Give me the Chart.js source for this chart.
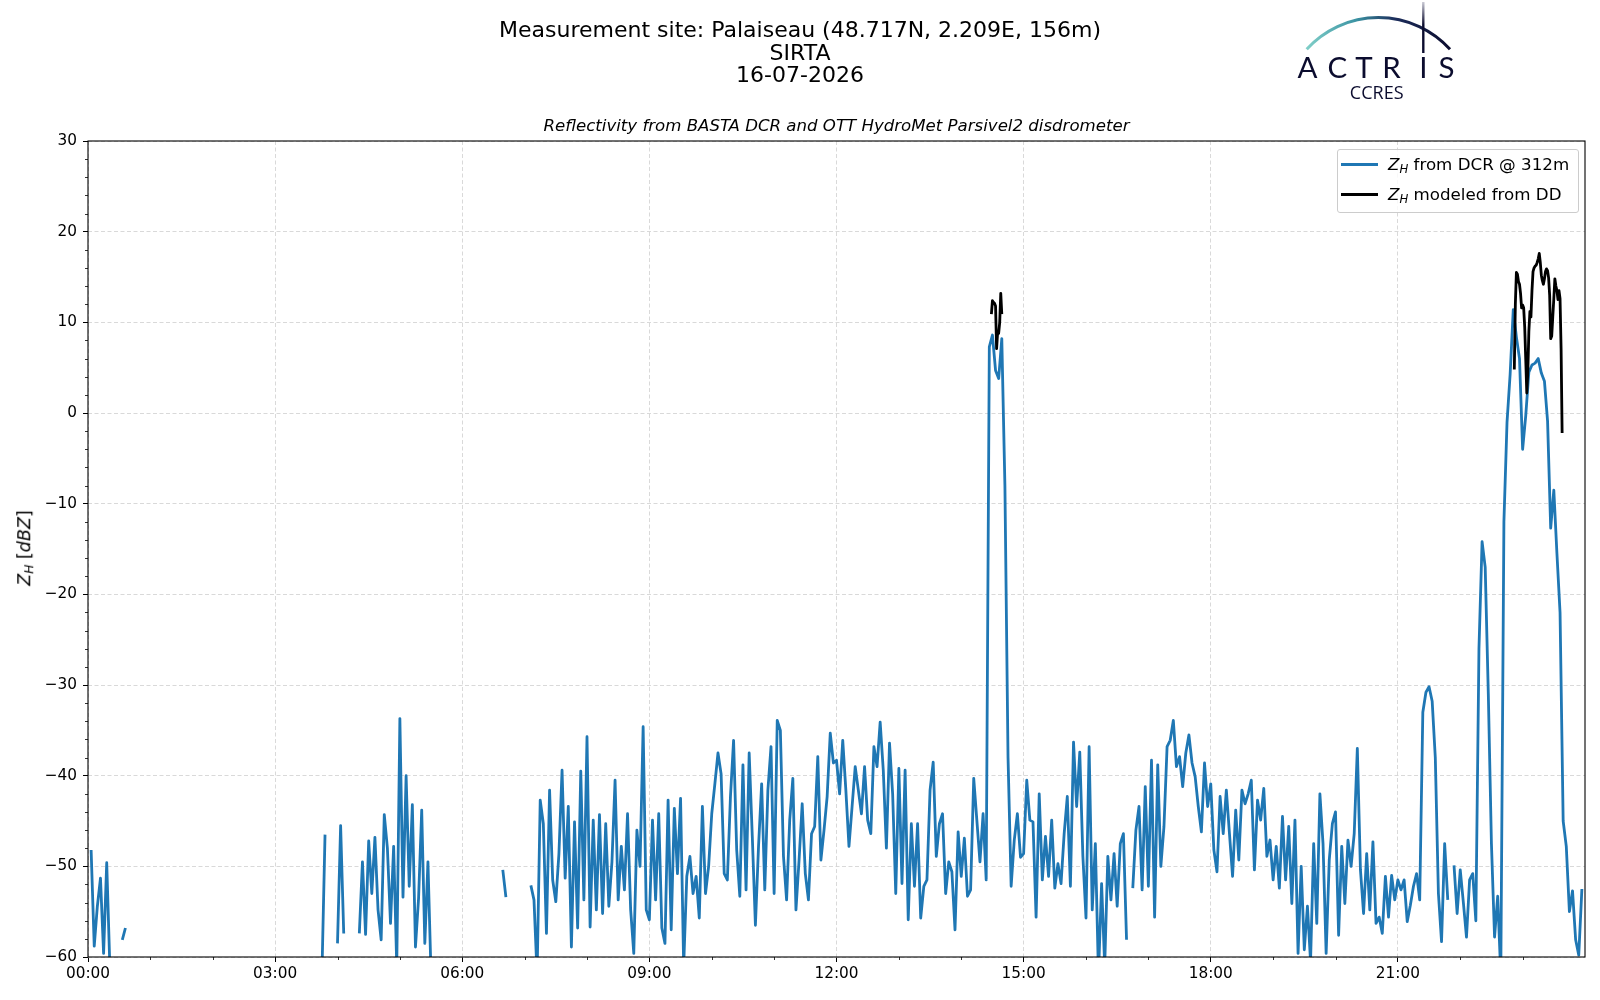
<!DOCTYPE html>
<html>
<head>
<meta charset="utf-8">
<title>Reflectivity Palaiseau</title>
<script src="https://cdn.jsdelivr.net/npm/chart.js@4.4.1/dist/chart.umd.min.js"></script>
<style>
  html, body { margin: 0; padding: 0; background: #fff; }
  #wrap { position: relative; width: 1600px; height: 1000px; font-family: "DejaVu Sans", sans-serif; color: #000; overflow: hidden; }
  #zh { position: absolute; left: 0; top: 0; }
  .title { position: absolute; left: 0; width: 1600px; text-align: center; font-size: 22px; line-height: 22px; white-space: nowrap; }
  .subtitle { position: absolute; left: 88px; width: 1497px; top: 118px; text-align: center; font-size: 16.6px; line-height: 16.6px; font-style: italic; white-space: nowrap; }
  #ylabel { position: absolute; left: 25px; top: 548px; transform: translate(-50%, -50%) rotate(-90deg); font-size: 17.5px; line-height: 17.5px; white-space: nowrap; }
  sub { font-size: 70%; vertical-align: -0.22em; line-height: 0; }
  #legend { position: absolute; left: 1337px; top: 149px; width: 240px; height: 62px; border: 1px solid #cccccc; border-radius: 3px; background: rgba(255,255,255,0.8); font-size: 16.7px; }
  .swatch { position: absolute; left: 3px; width: 37px; height: 2.8px; }
  .label { position: absolute; left: 50px; line-height: 16.7px; white-space: nowrap; }
  #logo { position: absolute; left: 1290px; top: 0; }
</style>
</head>
<body>
<div id="wrap">
  <canvas id="zh" width="1600" height="1000"></canvas>

  <div class="title" style="top:19px">Measurement site: Palaiseau (48.717N, 2.209E, 156m)</div>
  <div class="title" style="top:42px">SIRTA</div>
  <div class="title" style="top:64px">16-07-2026</div>
  <div class="subtitle">Reflectivity from BASTA DCR and OTT HydroMet Parsivel2 disdrometer</div>

  <div id="ylabel"><i>Z</i><sub><i>H</i></sub> [<i>dBZ</i>]</div>

  <div id="legend">
    <div class="swatch" style="top:13px; background:#1f77b4"></div>
    <div class="label" style="top:6px"><i>Z</i><sub><i>H</i></sub> from DCR @ 312m</div>
    <div class="swatch" style="top:43px; background:#000"></div>
    <div class="label" style="top:36px"><i>Z</i><sub><i>H</i></sub> modeled from DD</div>
  </div>

  <svg id="logo" width="180" height="110" viewBox="0 0 180 110">
    <defs>
      <linearGradient id="arcGrad" gradientUnits="userSpaceOnUse" x1="16" y1="0" x2="160" y2="0">
        <stop offset="0" stop-color="#80cfc8"/>
        <stop offset="0.35" stop-color="#3b93a3"/>
        <stop offset="0.62" stop-color="#1c2d5b"/>
        <stop offset="1" stop-color="#0b0c2e"/>
      </linearGradient>
      <linearGradient id="barGrad" gradientUnits="userSpaceOnUse" x1="0" y1="2" x2="0" y2="53">
        <stop offset="0" stop-color="#c9c9d4"/>
        <stop offset="0.45" stop-color="#0b0c2e"/>
        <stop offset="1" stop-color="#0b0c2e"/>
      </linearGradient>
    </defs>
    <path d="M 16.7 49.3 A 96.7 96.7 0 0 1 160 49.3" fill="none" stroke="url(#arcGrad)" stroke-width="3"/>
    <line x1="133.3" y1="2" x2="133.3" y2="53" stroke="url(#barGrad)" stroke-width="2.4"/>
    <g font-family="Lato, 'Open Sans', sans-serif" font-size="29.5" fill="#0b0c2e" text-anchor="middle">
      <text x="17.5" y="78.3">A</text>
      <text x="47.3" y="78.3">C</text>
      <text x="74" y="78.3">T</text>
      <text x="101.5" y="78.3">R</text>
      <text x="133.3" y="78.3">I</text>
      <text x="156.5" y="78.3">S</text>
    </g>
    <text x="86.7" y="99" font-family="'Open Sans', sans-serif" font-size="18" fill="#0b0c2e" text-anchor="middle">CCRES</text>
  </svg>
</div>

<script>
// sampling of the DCR series: one value every 3 minutes from 00:00
const DCR_STEP_MIN = 3;

// ZH from DCR @ 312m, dBZ, one row per hour (20 values), null = no data
const dcrZh = [
  /* 00 */ null, -48.2, -58.8, -54.4, -51.3, -59.6, -49.6, -61, null, null, null, -58.1, -56.8, null, null, null, null, null, null, null,
  /* 01 */ null, null, null, null, null, null, null, null, null, null, null, null, null, null, null, null, null, null, null, null,
  /* 02 */ null, null, null, null, null, null, null, null, null, null, null, null, null, null, null, null, null, null, null, null,
  /* 03 */ null, null, null, null, null, null, null, null, null, null, null, null, null, null, null, -62, -46.5, null, null, null,
  /* 04 */ -58.5, -45.5, -57.4, null, null, null, null, -57.4, -49.5, -57.5, -47.2, -53, -46.8, -54.8, -58.1, -44.3, -48, -56.3, -47.8, -61,
  /* 05 */ -33.7, -53.4, -40, -52.2, -43.2, -58.9, -53.5, -43.8, -58.5, -49.5, -62, null, null, null, null, null, null, null, null, null,
  /* 06 */ null, null, null, null, null, null, null, null, null, null, null, null, null, -50.4, -53.4, null, null, null, null, null,
  /* 07 */ null, null, -52.1, -53.7, -62, -42.7, -45.3, -57.4, -41.6, -51.5, -53.9, -48.6, -39.4, -51.3, -43.4, -58.9, -45.1, -56.8, -39.5, -53.7,
  /* 08 */ -35.7, -56.7, -44.9, -54.8, -44.3, -55.2, -45.3, -54.4, -49.5, -40.5, -53.7, -47.8, -52.6, -44.2, -54.8, -59.6, -46, -50, -34.6, -54.8,
  /* 09 */ -55.9, -44.9, -53.7, -44.2, -56.8, -58.5, -42.7, -57, -43.6, -50.8, -42.5, -61, -51.1, -48.9, -53, -51.1, -55.7, -43.4, -53, -50,
  /* 10 */ -44.2, -40.9, -37.5, -39.8, -50.8, -51.5, -42.3, -36.1, -48.2, -53.3, -38.8, -52.6, -37.5, -46.7, -56.5, -47.8, -40.9, -52.6, -41.6, -36.8,
  /* 11 */ -53, -33.9, -35, -48.9, -53.7, -44.9, -40.3, -54.8, -49.3, -43.1, -50.8, -53.7, -46.4, -45.6, -37.9, -49.3, -46, -42.3, -35.3, -38.6,
  /* 12 */ -38.3, -42, -36.1, -41.6, -47.8, -43.4, -39, -41.6, -44.2, -39, -44.9, -46.4, -36.8, -39, -34.1, -39.4, -48, -36.4, -42, -53,
  /* 13 */ -39.2, -51.9, -39.4, -55.9, -45.3, -52.2, -45.3, -55.7, -52.2, -51.5, -41.6, -38.5, -48.9, -45.3, -44.2, -53, -49.5, -50.6, -57, -46.2,
  /* 14 */ -51.1, -46.9, -53.3, -52.6, -40.3, -44.9, -49.5, -44.2, -51.5, 7.3, 8.6, 4.7, 3.8, 8.2, -8, -38, -52.2, -47.1, -44.2, -49,
  /* 15 */ -48.6, -40.5, -44.9, -45.1, -55.6, -42, -51.5, -46.7, -51.1, -44.9, -52.4, -49.7, -51.9, -46.4, -42.3, -52.2, -36.3, -43.4, -37.4, -48.9,
  /* 16 */ -55.7, -36.8, -54.8, -47.5, -62, -51.9, -61, -48.9, -53.7, -48.6, -54.4, -47.5, -46.4, -58.1, null, -52.4, -46, -43.4, -52.6, -41.2,
  /* 17 */ -52.2, -38.3, -55.6, -38.8, -50, -45.6, -36.8, -36.1, -33.9, -39, -37.9, -41.2, -37.5, -35.5, -38.6, -40.1, -43.4, -46.2, -38.6, -43.4,
  /* 18 */ -40.9, -48.2, -50.6, -42.3, -46.4, -41.6, -46.4, -51.1, -43.8, -49.3, -41.6, -43.1, -42, -40.5, -50.4, -42.7, -44.9, -41.4, -48.9, -47.1,
  /* 19 */ -51.5, -47.8, -52.4, -44.5, -51.5, -45.6, -54.1, -44.9, -59.6, -50, -59.2, -54.4, -60.5, -47.5, -56.3, -42, -47.5, -59.6, -49.3, -45.3,
  /* 20 */ -44, -57.6, -47.8, -54.1, -47.1, -50, -46.4, -37, -50.4, -55.2, -48.6, -54.8, -47.3, -56.3, -55.6, -57.4, -51.1, -55.6, -51, -53.7,
  /* 21 */ -51.5, -52.6, -51.5, -56.1, -54.3, -52.2, -50.8, -53.7, -33, -30.8, -30.2, -31.8, -38, -53, -58.3, -47.5, -53.7, null, -49.9, -55.2,
  /* 22 */ -50.4, -54, -57.8, -51.5, -50.8, -56, -26, -14.2, -17, -31, -47.5, -57.8, -53.3, -62, -12, -1, 4.3, 11.4, 8.4, 6,
  /* 23 */ -4, -0.3, 4.5, 5.3, 5.5, 6, 4.4, 3.5, -0.9, -12.7, -8.5, -15.5, -22, -45, -47.8, -55, -52.7, -58.1, -59.8, -52.5
];

// ZH modeled from the disdrometer, one value per minute, two rain events
const ddStartA = 869;   // 14:29
const ddZhA = [10.9, 12.4, 12.2, 12.1, 11.8, 7.1, 8.9, 8.8, 10, 13.2, 10.9];
const ddStartB = 1372;  // 22:52
const ddZhB = [
  4.8, 12, 15.5, 15.3, 14.5, 14.2, 13.2, 11.6, 11.9, 11.6,
  9.5, 5.9, 2.2, 4.5, 9, 11.2, 10.6, 13.5, 15.6, 16,
  16.2, 16.3, 16.6, 17, 17.6, 16.6, 15.2, 14.6, 14.2, 14.8,
  15.6, 15.9, 15.7, 14.9, 13, 8.2, 8.5, 10.6, 12.6, 14.8,
  14, 13.5, 12.5, 13.5, 12.6, 7.1, -2.2
];

const timeTicks = ['00:00', '03:00', '06:00', '09:00', '12:00', '15:00', '18:00', '21:00'];

const dcrPoints = dcrZh.map((v, i) => ({ x: i * DCR_STEP_MIN, y: v }));
const ddPoints = [
  ...ddZhA.map((v, i) => ({ x: ddStartA + i, y: v })),
  { x: ddStartA + ddZhA.length, y: null },
  ...ddZhB.map((v, i) => ({ x: ddStartB + i, y: v }))
];

// minor ticks + axes frame, like matplotlib
const frameAndMinor = {
  id: 'frameAndMinor',
  afterDraw(chart) {
    const { ctx, chartArea: a, scales: { x, y } } = chart;
    ctx.save();
    ctx.strokeStyle = '#000';
    ctx.lineWidth = 0.8;
    ctx.beginPath();
    for (let m = 60; m < 1440; m += 60) {
      if (m % 180 === 0) continue;
      const px = Math.round(x.getPixelForValue(m)) + 0.5;
      ctx.moveTo(px, a.bottom);
      ctx.lineTo(px, a.bottom + 3);
    }
    for (let v = -58; v < 30; v += 2) {
      if (v % 10 === 0) continue;
      const py = Math.round(y.getPixelForValue(v)) + 0.5;
      ctx.moveTo(a.left - 3, py);
      ctx.lineTo(a.left, py);
    }
    ctx.stroke();
    ctx.lineWidth = 1.1;
    ctx.strokeRect(a.left, a.top, a.right - a.left, a.bottom - a.top);
    ctx.restore();
  }
};

const gridOpts = {
  color: '#cfcfcf',
  lineWidth: 0.8,
  tickColor: '#000',
  tickLength: 5,
  tickWidth: 1,
  tickBorderDash: []
};
const tickFont = { family: 'DejaVu Sans', size: 15.3 };

new Chart(document.getElementById('zh'), {
  type: 'line',
  data: {
    datasets: [
      {
        label: 'ZH modeled from DD',
        data: ddPoints,
        borderColor: '#000000',
        borderWidth: 2.8,
        pointRadius: 0,
        borderJoinStyle: 'round',
        clip: 0,
        order: 1
      },
      {
        label: 'ZH from DCR @ 312m',
        data: dcrPoints,
        borderColor: '#1f77b4',
        borderWidth: 2.8,
        pointRadius: 0,
        borderJoinStyle: 'round',
        clip: 0,
        order: 2
      }
    ]
  },
  options: {
    responsive: false,
    animation: false,
    devicePixelRatio: 1,
    spanGaps: false,
    layout: { padding: { left: 0, right: 15, top: 141, bottom: 0 } },
    plugins: {
      legend: { display: false },
      tooltip: { enabled: false },
      title: { display: false }
    },
    scales: {
      x: {
        type: 'linear',
        min: 0,
        max: 1440,
        afterBuildTicks: s => { s.ticks = s.ticks.filter(t => t.value < 1440); },
        afterFit: s => { s.height = 43; },
        ticks: {
          stepSize: 180,
          autoSkip: false,
          maxRotation: 0,
          padding: 3,
          color: '#000',
          font: tickFont,
          callback: v => timeTicks[Math.round(v / 180)]
        },
        grid: gridOpts,
        border: { display: false, dash: [4, 2.5] }
      },
      y: {
        type: 'linear',
        min: -60,
        max: 30,
        afterFit: s => { s.width = 88; },
        ticks: {
          stepSize: 10,
          padding: 6,
          color: '#000',
          font: tickFont,
          callback: v => (v < 0 ? '\u2212' + (-v) : String(v))
        },
        grid: gridOpts,
        border: { display: false, dash: [4, 2.5] }
      }
    }
  },
  plugins: [frameAndMinor]
});
</script>
</body>
</html>
